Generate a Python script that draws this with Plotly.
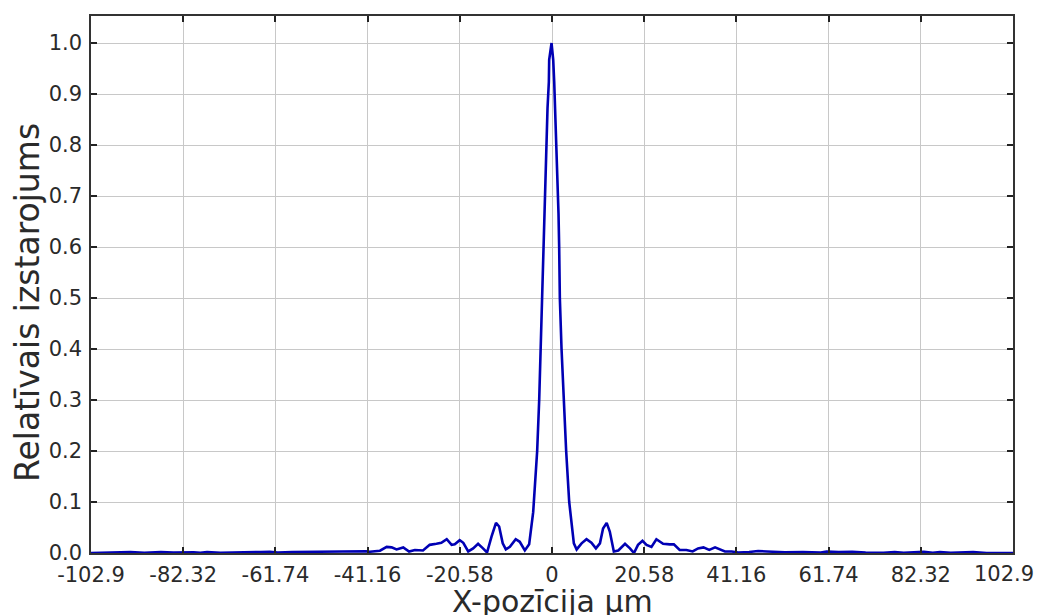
import plotly.graph_objects as go

# Sampled radiation profile across the X position
x_um = [
    -102.9, -98.0, -94.1, -91.0, -87.3, -84.5, -82.0, -80.0, -78.5, -77.0,
    -74.0, -70.8, -68.0, -65.0, -63.0, -61.2, -58.0, -55.0, -52.5, -50.0,
    -47.0, -45.0, -43.0, -41.5, -40.68, -38.4, -36.9, -35.8, -34.7, -33.2,
    -31.9, -30.6, -28.8, -27.3, -25.8, -24.7, -23.5, -22.4, -21.7, -20.6,
    -19.8, -18.7, -17.6, -16.5, -15.4, -14.5, -13.5, -12.5, -11.8, -11.0,
    -10.3, -9.4, -8.1, -7.2, -6.06, -5.1, -4.2, -4.05, -3.31, -2.86,
    -2.56, -2.2, -1.97, -1.75, -1.52, -1.22, -1.0, -0.7, -0.63, -0.1,
    0.27, 0.49, 0.71, 0.86, 1.15, 1.45, 1.6, 1.75, 2.13, 2.58,
    3.16, 3.84, 4.37, 4.88, 5.5, 6.6, 7.7, 8.8, 9.8, 10.7,
    11.4, 12.2, 12.9, 13.8, 14.8, 16.3, 17.4, 18.3, 19.2, 20.2,
    21.1, 22.2, 23.3, 24.8, 26.3, 27.2, 28.5, 30.0, 31.4, 32.6,
    33.8, 35.1, 36.4, 37.5, 38.6, 40.1, 41.6, 44.0, 46.0, 48.0,
    52.0, 56.0, 60.0, 61.3, 64.0, 67.0, 70.0, 74.0, 76.5, 78.5,
    81.0, 83.0, 85.0, 86.6, 89.0, 94.0, 97.0, 102.9,
]
intensity = [
    0.0, 0.0005, 0.002, 0.0005, 0.002, 0.0008, 0.002, 0.0015, 0.0005, 0.002,
    0.0005, 0.0015, 0.0025, 0.002, 0.0025, 0.001, 0.002, 0.0025, 0.002, 0.003,
    0.0035, 0.004, 0.003, 0.0035, 0.0025, 0.0045, 0.012, 0.011, 0.007, 0.011,
    0.003, 0.006, 0.005, 0.016, 0.018, 0.020, 0.027, 0.016, 0.017, 0.025,
    0.020, 0.003, 0.009, 0.018, 0.009, 0.001, 0.032, 0.059, 0.052, 0.019,
    0.007, 0.012, 0.027, 0.022, 0.005, 0.017, 0.08, 0.10, 0.2, 0.3,
    0.4, 0.5, 0.6, 0.666, 0.738, 0.81, 0.872, 0.924, 0.967, 1.0,
    0.967, 0.924, 0.872, 0.81, 0.738, 0.666, 0.6, 0.5, 0.4, 0.3,
    0.2, 0.1, 0.055, 0.019, 0.007, 0.019, 0.027, 0.020, 0.009, 0.019,
    0.048, 0.059, 0.042, 0.003, 0.005, 0.018, 0.009, 0.0, 0.016, 0.024,
    0.016, 0.012, 0.027, 0.018, 0.017, 0.017, 0.006, 0.006, 0.003, 0.009,
    0.011, 0.006, 0.011, 0.007, 0.003, 0.003, 0.001, 0.002, 0.004, 0.003,
    0.0015, 0.002, 0.001, 0.003, 0.002, 0.0025, 0.001, 0.0005, 0.002, 0.0005,
    0.002, 0.0025, 0.0005, 0.002, 0.0005, 0.002, 0.0, 0.0,
]

x_ticks = [-102.9, -82.32, -61.74, -41.16, -20.58, 0, 20.58, 41.16, 61.74, 82.32, 102.9]
x_tick_text = ["-102.9", "-82.32", "-61.74", "-41.16", "-20.58", "0",
               "20.58", "41.16", "61.74", "82.32", "102.9"]
y_ticks = [0.0, 0.1, 0.2, 0.3, 0.4, 0.5, 0.6, 0.7, 0.8, 0.9, 1.0]

X_TITLE = "X-pozīcija µm"
Y_TITLE = "Relatīvais izstarojums"

X_MIN, X_MAX = -102.9, 102.9
PAD = 1e-3  # keeps the end ticks inside the range

FONT = "DejaVu Sans"
TEXT = "#2a2a2a"
TICK_SIZE = 21

fig = go.Figure(
    go.Scatter(
        x=x_um, y=intensity, mode="lines",
        line=dict(color="#0000b4", width=2.6),
        hoverinfo="skip",
    )
)

axis_common = dict(
    showgrid=True, gridcolor="#c8c8c8", gridwidth=1,
    showline=True, linecolor="#333333", linewidth=1.5, mirror="ticks",
    ticks="inside", ticklen=6, tickwidth=1.5, tickcolor="#222222",
    zeroline=False, automargin=False,
    tickfont=dict(family=FONT, size=TICK_SIZE, color=TEXT),
)

# the rightmost label is drawn separately below, nudged left to stay on the page
fig.update_xaxes(
    range=[X_MIN - PAD, X_MAX + PAD], tickmode="array",
    tickvals=x_ticks, ticktext=x_tick_text[:-1] + [""],
    ticklabelstandoff=2,
    **axis_common,
)
fig.update_yaxes(
    range=[0, 1.053], tickmode="array",
    tickvals=y_ticks, ticktext=[f"{v:.1f}" for v in y_ticks],
    ticklabelstandoff=3,
    **axis_common,
)

fig.add_annotation(
    text=x_tick_text[-1], xref="x", yref="paper", x=x_ticks[-1], y=0,
    xanchor="right", yanchor="top", xshift=23, yshift=-7, showarrow=False,
    font=dict(family=FONT, size=TICK_SIZE, color=TEXT),
)

# axis titles placed as paper-anchored annotations
fig.add_annotation(
    text=X_TITLE, xref="paper", yref="paper", x=0.5, y=-0.0912,
    xanchor="center", yanchor="middle", showarrow=False,
    font=dict(family=FONT, size=30, color=TEXT),
)
fig.add_annotation(
    text=Y_TITLE, xref="paper", yref="paper", x=-0.0694, y=0.4655,
    xanchor="center", yanchor="middle", showarrow=False, textangle=-90,
    font=dict(family=FONT, size=33, color=TEXT),
)

fig.update_layout(
    width=1039, height=615,
    margin=dict(l=91, r=26, t=16, b=62),
    paper_bgcolor="white", plot_bgcolor="white",
    showlegend=False,
)

fig.write_html("out.html")
